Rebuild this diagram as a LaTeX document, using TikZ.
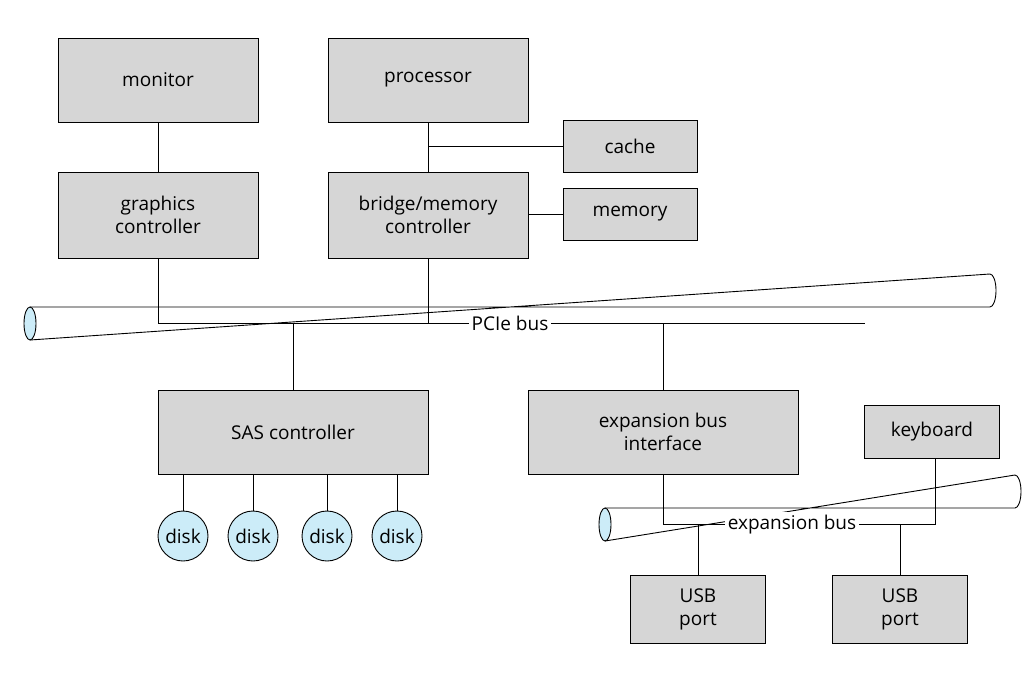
\documentclass[tikz,border=0pt]{standalone}
\usepackage{fontspec}
\setmainfont{Open Sans}
\usetikzlibrary{positioning}
\definecolor{boxgray}{RGB}{214,214,214}
\definecolor{diskblue}{RGB}{204,236,248}
\tikzset{
  unit/.style={draw, fill=boxgray, minimum width=#1, align=center, font=\fontsize{19}{23}\selectfont, inner sep=0pt},
  disk/.style={draw, circle, fill=diskblue, minimum size=50pt, inner sep=0pt, font=\fontsize{19}{23}\selectfont},
  buslabel/.style={fill=white, inner sep=3pt, font=\fontsize{19}{23}\selectfont}
}
\begin{document}
\begin{tikzpicture}[x=1pt, y=-1pt, line width=0.9pt]
\useasboundingbox (0,0) rectangle (1030,680);

% Busse
\draw[fill=white] (30,307) -- (990,307) arc[start angle=90, end angle=-90, x radius=6, y radius=16.5] -- (30,340);
\draw[fill=diskblue] (30,323.5) ellipse[x radius=6, y radius=16.5];
\draw[fill=white] (605,508) -- (1015,508) arc[start angle=90, end angle=-90, x radius=6, y radius=16.5] -- (605,541);
\draw[fill=diskblue] (605,524.5) ellipse[x radius=6, y radius=16.5];

% Einheiten
\node[unit=200pt, minimum height=84pt] (monitor) at (158,80) {monitor};
\node[unit=200pt, minimum height=84pt] (processor) at (428,80) {processor};
\node[unit=134pt, minimum height=52pt] (cache) at (630,146) {cache};
\node[unit=200pt, minimum height=86pt] (graphics) at (158,215) {graphics\\controller};
\node[unit=200pt, minimum height=86pt] (bridge) at (428,215) {bridge/memory\\controller};
\node[unit=134pt, minimum height=52pt] (memory) at (630,214) {memory};
\node[unit=270pt, minimum height=84pt] (sas) at (293,432) {SAS controller};
\node[unit=270pt, minimum height=84pt] (expif) at (663,432) {expansion bus\\interface};
\node[unit=135pt, minimum height=53pt] (keyboard) at (932,432) {keyboard};
\node[unit=135pt, minimum height=68pt] (usbA) at (698,609) {USB\\port};
\node[unit=135pt, minimum height=68pt] (usbB) at (900,609) {USB\\port};

% Platten
\foreach \n/\x in {1/183, 2/253, 3/327, 4/397} {
  \node[disk] (disk\n) at (\x,536) {disk};
  \draw (disk\n.north) -- (\x,474);
}

% PCIe-Leitungen
\coordinate (pcieL) at (158,323.5);
\coordinate (pcieR) at (865,323.5);
\draw (graphics.south) -- (pcieL) -- (pcieR);
\draw (bridge.south) -- (bridge.south |- pcieL);
\draw (sas.north) -- (sas.north |- pcieL);
\draw (expif.north) -- (expif.north |- pcieL);
\node[buslabel] (pcie) at (510,323.5) {PCIe bus};

\draw (monitor) -- (graphics);
\draw (processor) -- (bridge);
\draw (cache.west) -- (cache.west -| processor.south);
\draw (memory.west) -- (bridge.east |- memory.west);

% Erweiterungsbus
\coordinate (expL) at (663,524.5);
\coordinate (expR) at (935,524.5);
\draw (expif.south) -- (expL) -- (expR) -- (expR |- keyboard.south);
\draw (usbA.north) -- (usbA.north |- expL);
\draw (usbB.north) -- (usbB.north |- expL);
\node[buslabel] (expbus) at (792,524.5) {expansion bus};
\end{tikzpicture}
\end{document}
